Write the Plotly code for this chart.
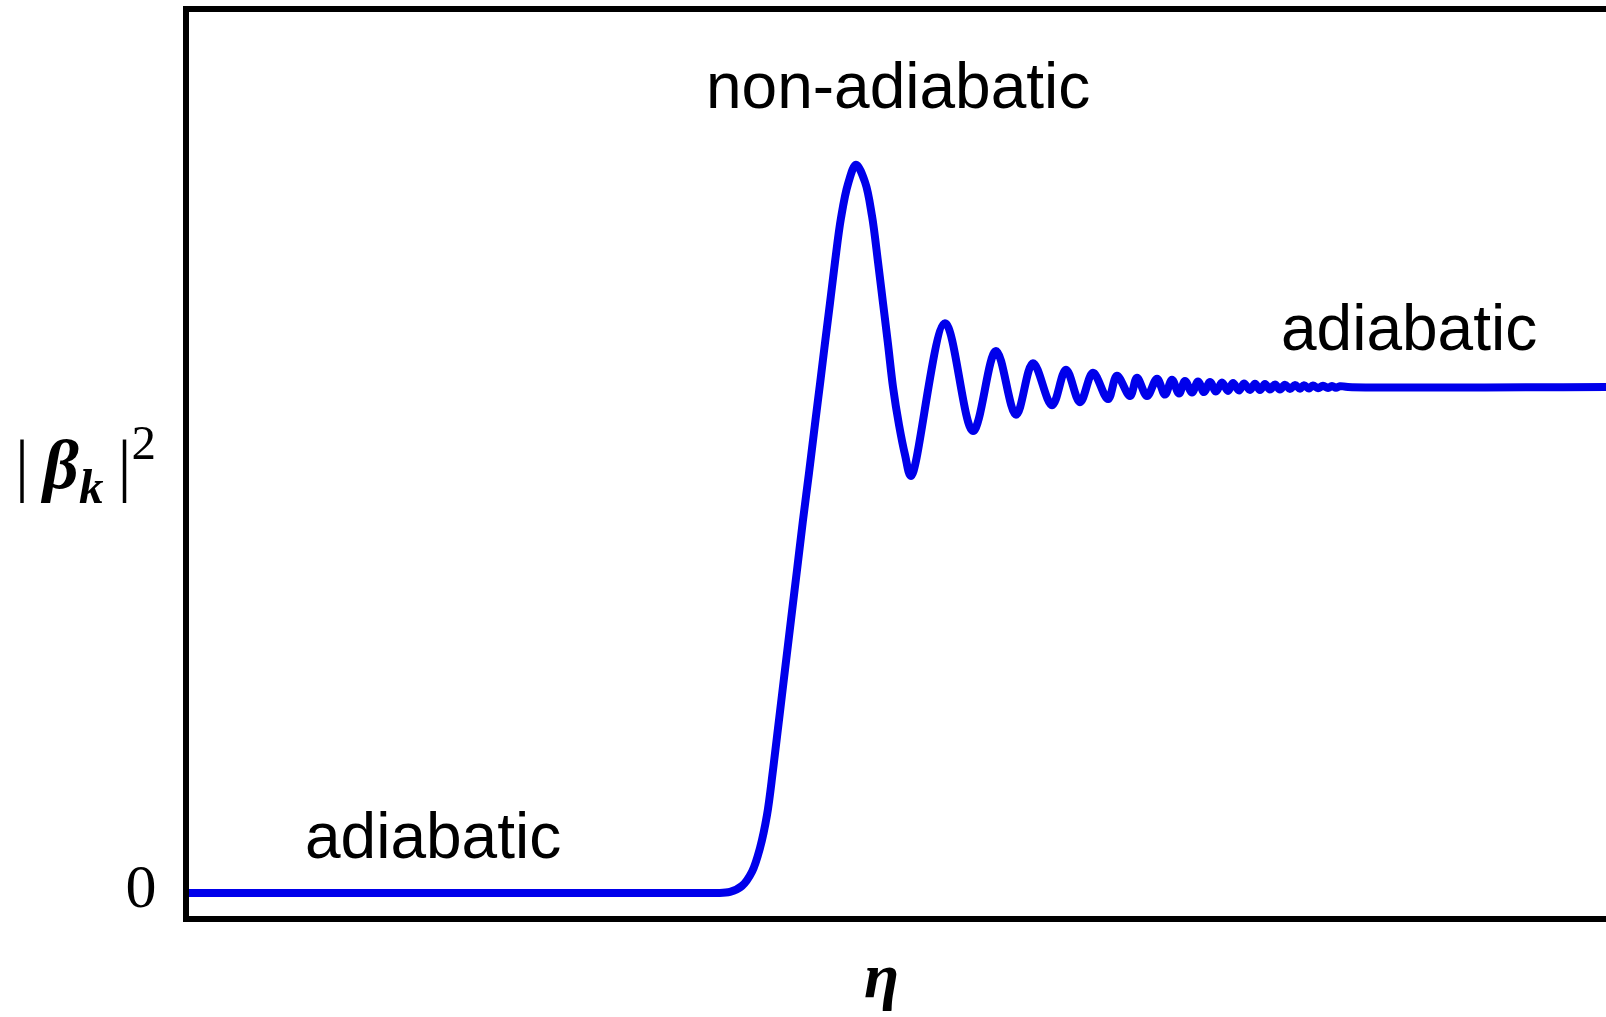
import plotly.graph_objects as go

# conformal time (arbitrary units) and particle number |beta_k|^2 (asymptotic value = 1)
eta = [0.00, 4.14, 4.94, 5.29, 5.44, 5.56, 5.66, 5.74, 5.81, 5.87, 5.93, 5.99, 6.05, 6.11, 6.17,
       6.23, 6.29, 6.34, 6.39, 6.44, 6.49, 6.55, 6.62, 6.70, 6.79, 6.86, 6.92, 6.97, 7.02, 7.07,
       7.13, 7.19, 7.25,
       7.59, 7.87, 8.10, 8.30, 8.47, 8.66, 8.80, 8.94, 9.07, 9.22, 9.31, 9.44, 9.51, 9.61, 9.71,
       9.79, 9.86, 9.93, 9.99, 10.06, 10.12, 10.18, 10.24, 10.30, 10.36, 10.42, 10.47, 10.53,
       10.58, 10.64, 10.69, 10.74, 10.79, 10.84, 10.89, 10.94, 10.99, 11.04, 11.09, 11.14, 11.18,
       11.23, 11.27, 11.32, 11.37, 11.42, 11.46, 11.50, 11.54, 11.62, 14.30]
beta2 = [0.000, 0.000, 0.000, 0.000, 0.002, 0.014, 0.042, 0.089, 0.154, 0.243, 0.342, 0.441,
         0.540, 0.638, 0.737, 0.830, 0.927, 1.006, 1.087, 1.166, 1.247, 1.334, 1.401, 1.439,
         1.405, 1.338, 1.247, 1.166, 1.085, 1.000, 0.925, 0.866, 0.824,
         1.126, 0.913, 1.071, 0.945, 1.047, 0.964, 1.034, 0.970, 1.028, 0.976, 1.022, 0.982, 1.018,
         0.982, 1.016, 0.985, 1.014, 0.987, 1.012, 0.989, 1.011, 0.990, 1.010, 0.991, 1.009, 0.992,
         1.008, 0.993, 1.007, 0.994, 1.0065, 0.994, 1.006, 0.995, 1.005, 0.995, 1.0045, 0.996,
         1.004, 0.9965, 1.0035, 0.997, 1.003, 0.9975, 1.0025, 0.998, 1.002, 0.9985, 1.0015, 1.000,
         1.000]

y_tick_vals = [0]
y_tick_text = ["0"]

labels = ["non-adiabatic", "adiabatic", "adiabatic"]
label_x = [7.12, 2.47, 12.23]
label_y = [1.595, 0.112, 1.117]

fig = go.Figure()
fig.add_trace(go.Scatter(
    x=eta, y=beta2, mode="lines",
    line=dict(color="rgb(0,0,235)", width=8, shape="spline", smoothing=1.0),
    hoverinfo="skip", showlegend=False,
))

for t, xx, yy in zip(labels, label_x, label_y):
    fig.add_annotation(x=xx, y=yy, xref="x", yref="y", text=t, showarrow=False,
                       xanchor="center", yanchor="middle",
                       font=dict(family="Liberation Sans", size=64, color="black"))

# axis titles
fig.add_annotation(x=-0.0727, y=0.50, xref="paper", yref="paper", showarrow=False,
                   xanchor="center", yanchor="middle",
                   text="|&#8201;<b><i>β</i></b><sub><b><i>k</i></b></sub>&#8201;|<sup>2</sup>",
                   font=dict(family="Liberation Serif", size=70, color="black"))
fig.add_annotation(x=0.4887, y=-0.066, xref="paper", yref="paper", showarrow=False,
                   xanchor="center", yanchor="middle",
                   text="<b><i>η</i></b>",
                   font=dict(family="Liberation Serif", size=64, color="black"))

fig.update_layout(
    width=1606, height=1017,
    margin=dict(l=189, r=0, t=12, b=101, pad=0),
    paper_bgcolor="white", plot_bgcolor="white",
    xaxis=dict(range=[0.03, 14.20], showgrid=False, zeroline=False, showticklabels=False,
               ticks="", showline=True, linewidth=6, linecolor="black", mirror=True),
    yaxis=dict(range=[-0.0455, 1.741], showgrid=False, zeroline=False,
               tickvals=y_tick_vals, ticktext=y_tick_text, ticks="outside", ticklen=14,
               tickcolor="rgba(0,0,0,0)", ticklabelshift=-8,
               tickfont=dict(family="Liberation Serif", size=62, color="black"),
               showline=True, linewidth=6, linecolor="black", mirror=False),
)

fig.write_html("out.html", config={"displayModeBar": False})
